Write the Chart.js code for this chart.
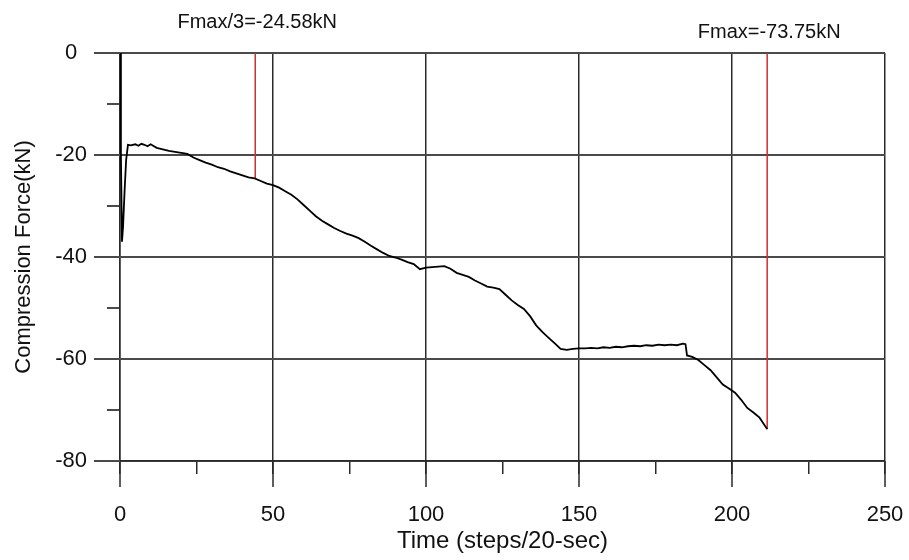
<!DOCTYPE html>
<html>
<head>
<meta charset="utf-8">
<script src="https://cdn.jsdelivr.net/npm/chart.js@4/dist/chart.umd.min.js"></script>
<style>
  html,body{margin:0;padding:0;background:#fff;}
  #wrap{width:909px;height:560px;}
</style>
</head>
<body>
<div id="wrap"><canvas id="forceChart" width="909" height="560"></canvas></div>
<script>
// force vs time
const timeSteps = [0, 0.3, 0.65, 1.0, 1.5, 2.0, 2.6, 3.5, 5, 6, 7, 8, 9, 10, 12, 14, 16, 18, 20, 22,
  24, 26, 28, 30, 32, 34, 36, 38, 40, 42, 44, 46, 48, 50, 52, 54, 56, 58, 60, 62,
  64, 66, 68, 70, 72, 74, 76, 78, 80, 82, 84, 86, 88, 90, 92, 94, 96, 98, 100, 102,
  104, 106, 108, 110, 112, 114, 116, 118, 120, 122, 124, 126, 128, 130, 132, 134, 136, 138, 140, 142,
  144, 146, 148, 150, 152, 154, 156, 158, 160, 162, 164, 166, 168, 170, 172, 174, 176, 178, 180, 182,
  184, 184.8, 185.3, 187, 189, 191, 193, 195, 197, 199, 201, 203, 205, 207, 209, 211.5];
const forceKN = [0, -20, -37, -34, -27, -21, -18, -18.1, -17.9, -18.2, -17.8, -18.0, -18.3, -17.9, -18.6, -18.9, -19.2, -19.4, -19.6, -19.8,
  -20.5, -21.0, -21.5, -21.9, -22.4, -22.7, -23.2, -23.6, -24.0, -24.4, -24.6, -25.1, -25.6, -25.9, -26.4, -27.1, -27.8, -28.7, -29.8, -30.9,
  -32.0, -32.9, -33.6, -34.3, -34.9, -35.4, -35.8, -36.3, -37.0, -37.8, -38.5, -39.2, -39.8, -40.1, -40.5, -41.0, -41.4, -42.4, -42.1, -42.0,
  -41.9, -41.8, -42.3, -43.1, -43.5, -43.9, -44.6, -45.2, -45.8, -46.0, -46.3, -47.4, -48.5, -49.4, -50.2, -51.6, -53.4, -54.7, -55.8, -56.9,
  -58.0, -58.2, -58.0, -57.9, -57.9, -57.8, -57.9, -57.7, -57.8, -57.6, -57.7, -57.5, -57.4, -57.5, -57.3, -57.4, -57.2, -57.3, -57.2, -57.3,
  -57.0, -57.1, -59.3, -59.6, -60.2, -61.2, -62.2, -63.6, -65.0, -65.8, -66.6, -68.0, -69.6, -70.5, -71.5, -73.75];

// red markers
const markerX = [44.2, 211.5];
const markerF = [-24.58, -73.75];
const markerLabels = ['Fmax/3=-24.58kN', 'Fmax=-73.75kN'];
const markerLabelY = [22, 32];

const xMajor = [0, 50, 100, 150, 200, 250];
const yMajor = [0, -20, -40, -60, -80];

const FONT = "'Liberation Sans', Arial, sans-serif";

const curve = timeSteps.map((t, i) => ({x: t, y: forceKN[i]}));
const markerSets = markerX.map((mx, i) => ({
  data: [{x: mx, y: 0}, {x: mx, y: markerF[i]}],
  borderColor: '#ff1a1a', borderWidth: 1.5, pointRadius: 0
}));

// long ticks for the major values + marker captions
const extras = {
  id: 'extras',
  afterDraw(chart){
    const {ctx, chartArea: a, scales: {x, y}} = chart;
    ctx.save();
    ctx.strokeStyle = '#2a2a2a';
    ctx.lineWidth = 1.5;
    ctx.beginPath();
    xMajor.forEach(v => { const px = x.getPixelForValue(v); ctx.moveTo(px, a.bottom); ctx.lineTo(px, a.bottom + 26); });
    ctx.stroke();
    ctx.strokeStyle = '#4a4a4a';
    ctx.lineWidth = 2;
    ctx.beginPath();
    yMajor.forEach(v => { const py = y.getPixelForValue(v); ctx.moveTo(a.left - 26, py); ctx.lineTo(a.left, py); });
    ctx.stroke();
    ctx.fillStyle = '#111';
    ctx.font = '20px ' + FONT;
    ctx.textAlign = 'center';
    ctx.textBaseline = 'middle';
    markerLabels.forEach((t, i) => ctx.fillText(t, x.getPixelForValue(markerX[i]) + 2, markerLabelY[i]));
    ctx.restore();
  }
};

new Chart(document.getElementById('forceChart'), {
  type: 'line',
  data: {
    datasets: [
      {data: curve, borderColor: '#000', borderWidth: 1.8, pointRadius: 0, tension: 0},
      ...markerSets
    ]
  },
  options: {
    responsive: false,
    animation: false,
    layout: {padding: {top: 53, right: 24, left: 0, bottom: 0}},
    plugins: {legend: {display: false}, tooltip: {enabled: false}},
    scales: {
      x: {
        type: 'linear', min: 0, max: 250,
        afterFit(s){ s.height = 99; s.paddingRight = 0; s.paddingLeft = 0; },
        ticks: {
          stepSize: 25, autoSkip: false, maxRotation: 0, padding: 28, color: '#111',
          font: {family: FONT, size: 22},
          callback: v => (v % 50 === 0 ? v : '')
        },
        grid: {
          color: c => (c.tick && c.tick.value % 50 === 0 ? '#2a2a2a' : 'rgba(0,0,0,0)'),
          tickColor: '#2a2a2a', lineWidth: 1.5, tickLength: 13
        },
        border: {display: true, color: '#2a2a2a', width: 1.5},
        title: {display: true, text: 'Time (steps/20-sec)', color: '#111',
          font: {family: FONT, size: 24}, padding: {top: 0, bottom: 4}}
      },
      y: {
        min: -80, max: 0,
        afterFit(s){ s.width = 120; s.paddingTop = 0; s.paddingBottom = 0; },
        ticks: {
          stepSize: 10, padding: 20, crossAlign: 'center', color: '#111',
          font: {family: FONT, size: 22},
          callback: v => (v % 20 === 0 ? v : '')
        },
        grid: {
          color: c => (c.tick && c.tick.value % 20 === 0 ? '#4a4a4a' : 'rgba(0,0,0,0)'),
          tickColor: '#4a4a4a', lineWidth: 2, tickLength: 13
        },
        border: {display: true, color: '#2a2a2a', width: 1.5},
        title: {display: true, text: 'Compression Force(kN)', color: '#111',
          font: {family: FONT, size: 22}, padding: {top: 11, bottom: 0}}
      }
    }
  },
  plugins: [extras]
});
</script>
</body>
</html>
